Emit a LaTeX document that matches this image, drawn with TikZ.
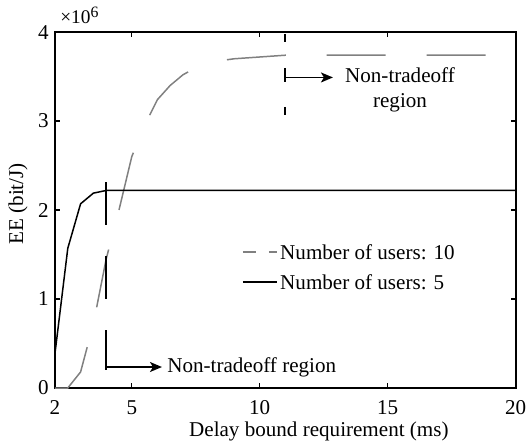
\documentclass[tikz,border=0pt]{standalone}
\usepackage{fontspec}
\setmainfont{Liberation Serif}
\usetikzlibrary{arrows.meta, positioning}

\begin{document}
\begin{tikzpicture}[
    x = 0.02cm, y = 0.02cm,
    every node/.style = {inner sep = 0pt, font = \fontsize{12}{14.4}\selectfont},
    frame/.style = {line width = 1.1pt},
    tickmark/.style = {line width = 0.75pt},
    users5/.style = {line width = 0.85pt, black},
    users10/.style = {line width = 0.85pt, black!50, dash pattern = on 1.18cm off 0.82cm},
    legend10/.style = {line width = 0.85pt, black!50, dash pattern = on 0.26cm off 0.26cm},
    marker/.style = {line width = 1.1pt},
    regionarrow/.style = {-{Stealth[length = 0.24cm, width = 0.2cm, inset = 0.06cm]}, line width = 0.85pt}
  ]
  \useasboundingbox (0,0) rectangle (527,443);

  \begin{scope}[shift = {(0.076cm,1.1cm)}, x = 0.512cm, y = 1.78cm]
    % frame and ticks
    \draw[frame] (2,0) rectangle (20,4);
    \foreach \t in {5,10,15} {
      \draw[tickmark] (\t,0) -- ++(0,0.1cm);
      \draw[tickmark] (\t,4) -- ++(0,-0.1cm);
    }
    \foreach \v in {1,2,3} {
      \draw[tickmark] (2,\v) -- ++(0.1cm,0);
      \draw[tickmark] (20,\v) -- ++(-0.1cm,0);
    }
    \foreach \t in {2,5,10,15,20}
      \node[anchor = north, yshift = -0.24cm] (xt\t) at (\t,0) {\t};
    \foreach \v in {0,...,4}
      \node[anchor = east, xshift = -0.12cm] (yt\v) at (2,\v) {\v};
    \node[anchor = base west] (expo) at (2.195,4.10)
      {\fontsize{11}{12}\selectfont ×10\raisebox{3.5pt}{\fontsize{9}{10}\selectfont 6}};
    \node[anchor = base] (xlabel) at (12.31,-0.55) {Delay bound requirement (ms)};
    \node[rotate = 90] (ylabel) at (0.555,2.07) {EE (bit/J)};

    % curves
    \draw[users10] (2,0) -- (2.5,0) -- (3,0.18) -- (3.5,0.72) -- (4,1.45)
      -- (4.5,2.0) -- (5,2.6) -- (5.5,2.95) -- (6,3.24) -- (6.5,3.40)
      -- (7,3.52) -- (7.5,3.60) -- (8,3.65) -- (8.5,3.68) -- (9,3.70)
      -- (10,3.72) -- (11,3.74) -- (20,3.74);
    \draw[users5] (2,0.39) -- (2.5,1.57) -- (3,2.07) -- (3.5,2.19)
      -- (4,2.22) -- (20,2.22);

    % legend
    \coordinate (leg10a) at (9.34,1.528);
    \coordinate (leg10b) at (10.67,1.528);
    \coordinate (leg5a) at (9.34,1.19);
    \coordinate (leg5b) at (10.67,1.19);
    \draw[legend10] (leg10a) -- (leg10b);
    \draw[users5] (leg5a) -- (leg5b);
    \node[right = 0.06cm of leg10b] (leg10) {Number of users: 10};
    \node[right = 0.06cm of leg5b] (leg5) {Number of users: 5};

    % non-tradeoff regions
    \coordinate (lowtop) at (4,2.31);
    \coordinate (lowbot) at (4,0.2);
    \coordinate (lowstart) at (4,0.236);
    \coordinate (lowend) at (6.18,0.236);
    \draw[marker, dash pattern = on 0.86cm off 0.62cm] (lowtop) -- (lowbot);
    \draw[regionarrow] (lowstart) -- (lowend);
    \node[right = 0.1cm of lowend] (lowtext) {Non-tradeoff region};

    \coordinate (hightop) at (11,3.98);
    \coordinate (highbot) at (11,3.07);
    \coordinate (highstart) at (11,3.49);
    \coordinate (highend) at (12.86,3.49);
    \draw[marker, dash pattern = on 0.16cm off 0.52cm on 0.28cm off 0.5cm] (hightop) -- (highbot);
    \draw[regionarrow] (highstart) -- (highend);
    \node[anchor = north, align = center] (hightext) at (15.48,3.607) {Non-tradeoff\\region};
  \end{scope}
\end{tikzpicture}
\end{document}
